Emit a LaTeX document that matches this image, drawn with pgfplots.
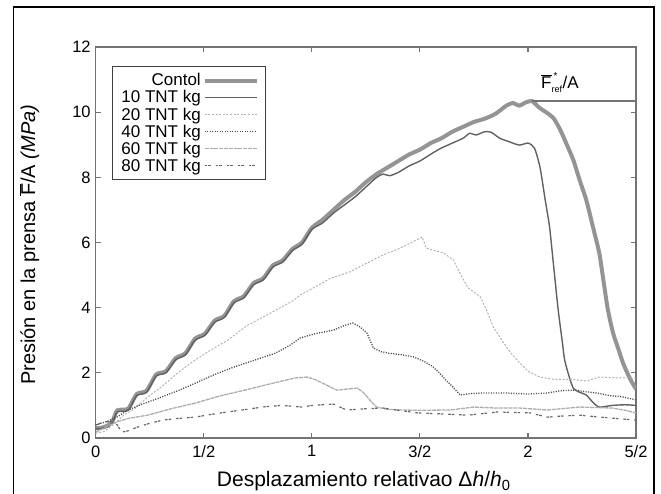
\documentclass[border=0pt]{standalone}
\usepackage{pgfplots}
\pgfplotsset{compat=1.18}
\usepackage{fontspec}
\setmainfont{Liberation Sans}
\begin{document}
\begin{tikzpicture}[x=1pt,y=1pt]
\useasboundingbox (0,0) rectangle (661,493);
\draw[black, line width=1.2pt] (13.5,-5) -- (13.5,486) -- (654,486) -- (654,-5);
\begin{axis}[
  at={(95.7pt,55pt)}, anchor=south west,
  scale only axis, width=540.3pt, height=391pt,
  xmin=0, xmax=2.5, ymin=0, ymax=12,
  xtick={0,0.5,1,1.5,2,2.5},
  xticklabels={0,1/2,1,3/2,2,5/2},
  ytick={0,2,4,6,8,10,12},
  /pgf/number format/assume math mode=true,
  tick align=inside,
  major tick length=5pt,
  axis line style={black!55, line width=1.3pt},
  major tick style={black!55, line width=1.2pt},
  ticklabel style={font=\fontsize{16.5}{19}\selectfont},
  xticklabel style={yshift=-4pt},
  yticklabel style={xshift=-1.5pt},
  xlabel={Desplazamiento relativao Δ\textit{h}/\textit{h}\textsubscript{0}},
  ylabel={Presión en la prensa $\overline{\mbox{F}}$/A \textit{(MPa)}},
  xlabel style={font=\fontsize{21}{24}\selectfont, at={(axis description cs:0.496,-0.1253)}, anchor=base},
  ylabel style={font=\fontsize{20}{23}\selectfont, at={(axis description cs:-0.1123,0.494)}, anchor=base, rotate=0},
  legend plot pos=right,
  legend cell align=right,
  legend image code/.code={\draw[#1] (0pt,0pt) -- (52pt,0pt);},
  legend style={at={(0.03,0.951)}, anchor=north west, draw=black!75, line width=1pt,
    font=\fontsize{17}{19}\selectfont, row sep=-0.8pt, inner xsep=7pt, inner ysep=5pt},
]
\addplot[black!42, line width=4pt, smooth, tension=0.4] coordinates {
(0,0.30)(0.03,0.32)(0.06,0.40)(0.08,0.55)(0.10,0.85)(0.15,0.90)(0.19,1.35)(0.235,1.45)(0.28,1.95)(0.325,2.05)(0.37,2.45)(0.415,2.6)(0.46,3.05)(0.505,3.2)(0.55,3.6)(0.595,3.75)(0.64,4.2)(0.685,4.35)(0.73,4.75)(0.775,4.9)(0.82,5.3)(0.865,5.45)(0.91,5.8)(0.955,6.0)(1.0,6.45)(1.05,6.7)(1.1,7.0)(1.15,7.3)(1.2,7.55)(1.25,7.85)(1.3,8.1)(1.35,8.3)(1.4,8.5)(1.45,8.7)(1.5,8.85)(1.55,9.05)(1.6,9.2)(1.65,9.4)(1.7,9.55)(1.75,9.7)(1.8,9.8)(1.85,9.95)(1.9,10.2)(1.93,10.28)(1.96,10.2)(1.99,10.3)(2.02,10.34)(2.05,10.15)(2.09,9.97)(2.12,9.8)(2.15,9.45)(2.18,9.0)(2.21,8.53)(2.24,7.9)(2.27,7.3)(2.3,6.5)(2.33,5.68)(2.35,4.8)(2.37,3.93)(2.394,3.22)(2.42,2.7)(2.44,2.3)(2.47,1.85)(2.5,1.5)};
\addlegendentry{Contol}
\addplot[black!62, line width=1.4pt, smooth, tension=0.4] coordinates {
(0,0.28)(0.03,0.30)(0.06,0.36)(0.08,0.5)(0.10,0.80)(0.15,0.85)(0.19,1.30)(0.235,1.40)(0.28,1.90)(0.325,2.0)(0.37,2.40)(0.415,2.55)(0.46,3.0)(0.505,3.15)(0.55,3.55)(0.595,3.7)(0.64,4.15)(0.685,4.3)(0.73,4.7)(0.775,4.85)(0.82,5.25)(0.865,5.4)(0.91,5.75)(0.955,5.95)(1.0,6.4)(1.05,6.6)(1.1,6.9)(1.15,7.15)(1.2,7.4)(1.25,7.7)(1.3,8.0)(1.33,8.1)(1.36,8.05)(1.4,8.15)(1.45,8.35)(1.5,8.5)(1.56,8.75)(1.6,8.9)(1.65,9.05)(1.7,9.2)(1.73,9.35)(1.76,9.3)(1.8,9.4)(1.83,9.38)(1.87,9.2)(1.91,9.1)(1.96,8.99)(2.0,9.05)(2.03,8.9)(2.056,8.3)(2.08,7.3)(2.10,6.48)(2.12,5.2)(2.14,3.93)(2.16,2.9)(2.17,2.39)(2.19,1.9)(2.21,1.53)(2.24,1.4)(2.27,1.32)(2.3,1.1)(2.33,0.95)(2.39,1.0)(2.45,1.02)(2.5,1.0)};
\addlegendentry{10 TNT kg}
\addplot[black!30, line width=1pt, dash pattern=on 2pt off 1.6pt] coordinates {
(0,0.15)(0.04,0.2)(0.08,0.4)(0.13,0.7)(0.18,0.9)(0.24,1.25)(0.31,1.6)(0.38,2.0)(0.45,2.35)(0.52,2.65)(0.61,3.0)(0.7,3.45)(0.8,3.8)(0.92,4.24)(0.946,4.39)(1.02,4.65)(1.085,4.9)(1.177,5.1)(1.25,5.35)(1.33,5.62)(1.4,5.8)(1.455,5.98)(1.51,6.17)(1.53,5.83)(1.57,5.75)(1.61,5.68)(1.655,5.46)(1.69,5.0)(1.72,4.63)(1.78,4.33)(1.81,3.9)(1.84,3.4)(1.87,3.1)(1.91,2.7)(1.95,2.39)(2.0,2.05)(2.056,1.87)(2.12,1.8)(2.2,1.8)(2.27,1.75)(2.33,1.87)(2.4,1.85)(2.5,1.84)};
\addlegendentry{20 TNT kg}
\addplot[black!70, line width=1.3pt, dash pattern=on 1.1pt off 1.4pt] coordinates {
(0,0.4)(0.05,0.5)(0.1,0.65)(0.15,0.86)(0.2,1.0)(0.31,1.27)(0.38,1.45)(0.46,1.68)(0.55,1.95)(0.645,2.19)(0.74,2.4)(0.83,2.6)(0.9,2.85)(0.946,3.07)(1.015,3.2)(1.10,3.31)(1.15,3.45)(1.19,3.53)(1.225,3.4)(1.255,3.22)(1.285,2.76)(1.32,2.65)(1.36,2.6)(1.42,2.55)(1.47,2.49)(1.52,2.35)(1.56,2.19)(1.59,2.0)(1.62,1.78)(1.655,1.55)(1.686,1.32)(1.73,1.36)(1.78,1.38)(1.9,1.38)(2.0,1.35)(2.09,1.38)(2.15,1.45)(2.21,1.47)(2.27,1.42)(2.32,1.38)(2.38,1.3)(2.43,1.27)(2.5,1.17)};
\addlegendentry{40 TNT kg}
\addplot[black!32, line width=1.3pt, dash pattern=on 4pt off 0.8pt] coordinates {
(0,0.18)(0.05,0.35)(0.1,0.5)(0.15,0.6)(0.24,0.7)(0.35,0.9)(0.46,1.07)(0.58,1.3)(0.69,1.47)(0.8,1.65)(0.92,1.84)(0.98,1.87)(1.02,1.78)(1.06,1.65)(1.115,1.47)(1.16,1.5)(1.21,1.53)(1.235,1.42)(1.255,1.27)(1.28,1.08)(1.30,0.95)(1.35,0.88)(1.41,0.86)(1.5,0.85)(1.64,0.86)(1.75,0.95)(1.85,0.92)(1.96,0.92)(2.09,0.86)(2.24,0.95)(2.39,0.92)(2.45,0.85)(2.5,0.77)};
\addlegendentry{60 TNT kg}
\addplot[black!60, line width=1.2pt, dash pattern=on 2.5pt off 1pt on 2.5pt off 5pt] coordinates {
(0,0.4)(0.04,0.5)(0.08,0.5)(0.1,0.4)(0.12,0.18)(0.15,0.22)(0.195,0.34)(0.25,0.45)(0.31,0.55)(0.38,0.6)(0.46,0.64)(0.53,0.72)(0.61,0.8)(0.7,0.88)(0.77,0.95)(0.86,1.0)(0.955,0.95)(1.0,1.0)(1.05,1.02)(1.10,1.04)(1.16,0.86)(1.25,0.9)(1.33,0.92)(1.4,0.85)(1.49,0.77)(1.6,0.74)(1.72,0.7)(1.86,0.8)(1.95,0.78)(2.01,0.77)(2.09,0.64)(2.17,0.68)(2.24,0.7)(2.32,0.65)(2.39,0.61)(2.5,0.55)};
\addlegendentry{80 TNT kg}
\addplot[black!55, line width=1.2pt, forget plot] coordinates {(2.02,10.34) (2.5,10.34)};
\node[font=\fontsize{17}{19}\selectfont] at (axis cs:2.148,10.9) {$\overline{\mbox{F}}^{\,\mbox{\fontsize{10}{11}\selectfont *}}_{\mbox{\fontsize{9}{10}\selectfont ref}}$/A};
\end{axis}
\end{tikzpicture}
\end{document}
